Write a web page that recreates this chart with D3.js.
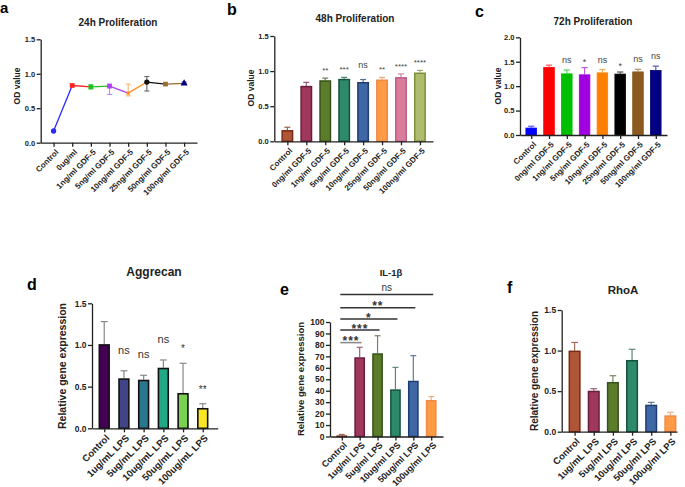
<!DOCTYPE html>
<html><head><meta charset="utf-8">
<script src="https://cdn.jsdelivr.net/npm/d3@7"></script>
<style>
body{margin:0;background:#fff}
svg{display:block}
text{font-family:"Liberation Sans",Arial,Helvetica,sans-serif}
</style>
</head><body>
<svg id="chart" width="685" height="487"></svg>
<script>
// ---------------- DATA ----------------
const catsA = ["Control","0ug/ml","1ng/ml GDF-5","5ng/ml GDF-5","10ng/ml GDF-5","25ng/ml GDF-5","50ng/ml GDF-5","100ng/ml GDF-5"];
const catsGDF = ["Control","0ng/ml GDF-5","1ng/ml GDF-5","5ng/ml GDF-5","10ng/ml GDF-5","25ng/ml GDF-5","50ng/ml GDF-5","100ng/ml GDF-5"];
const od24 = [0.17,0.83,0.81,0.82,0.72,0.88,0.85,0.86];
const od24Lo = [0.17,0.82,0.78,0.70,0.68,0.75,0.84,0.85];
const od24Hi = [0.17,0.84,0.84,0.85,0.85,0.96,0.86,0.88];
const od48 = [0.16,0.79,0.87,0.89,0.845,0.88,0.915,0.98];
const od48Err = [0.04,0.05,0.03,0.02,0.035,0.03,0.045,0.03];
const sig48 = ["","","**","***","ns","**","****","****"];
const od72 = [0.15,1.39,1.26,1.24,1.28,1.255,1.30,1.33];
const od72Err = [0.03,0.04,0.07,0.14,0.06,0.035,0.045,0.08];
const sig72 = ["","","ns","*","ns","*","ns","ns"];
const catsAgg = ["Control","1ug/mL LPS","5ug/mL LPS","10ug/mL LPS","50ug/mL LPS","100ug/mL LPS"];
const aggrecan = [1.01,0.60,0.583,0.727,0.424,0.244];
const aggrecanErr = [0.27,0.09,0.053,0.093,0.356,0.051];
const sigAgg = ["","ns","ns","ns","*","**"];
const catsIL = ["Control","1ug/ml LPS","5ug/ml LPS","10ug/ml LPS","50ug/ml LPS","100ug/ml LPS"];
const il1b = [1,69.2,72.7,41.2,48.7,31.9];
const il1bErr = [0.8,8.7,15.3,19.2,21.9,2.9];
const ilBracketTo = [1,2,3,4,5];
const ilBracketLabel = ["***","***","*","**","ns"];
const ilBracketLevel = [82,93,102.6,112.5,124];
const catsRho = ["Control","1ug/mL LPS","5ug/ml LPS","10ug/ml LPS","50ug/ml LPS","100ug/ml LPS"];
const rhoa = [1.0,0.505,0.613,0.884,0.333,0.202];
const rhoaErr = [0.10,0.025,0.077,0.132,0.029,0.037];
const ticks15 = [0,0.5,1.0,1.5];
const ticks20 = [0,0.5,1.0,1.5,2.0];
const ticks100 = [0,10,20,30,40,50,60,70,80,90,100];

// ---------------- STYLES ----------------
const pureCols = ["#0000FF","#FF0000","#00BE00","#A000E0","#FF8000","#000000","#8B5A1E","#000080"];
const lineCols = ["#2A2AFF","#FF2020","#20C020","#B040F0","#FF8A20","#111111","#9A6A30","#000080"];
const markShapes = [d3.symbolCircle,d3.symbolSquare,d3.symbolSquare,d3.symbolSquare,d3.symbolSquare,d3.symbolCircle,d3.symbolSquare,d3.symbolTriangle];
const prismFill = ["#AE5636","#A0385E","#5C7C2C","#2F8A6C","#3F67A4","#FF9A45","#DA7C9C","#AEBC6D"];
const prismStroke = ["#7A2A14","#6A1C3C","#36521A","#15523C","#1E3E72","#F08848","#BD5E82","#7D8F38"];
const viridis = ["#440154","#414487","#2A788E","#22A884","#7AD151","#FDE725"];
const light = (c,t) => d3.interpolateRgb(c,"#ffffff")(t);
const AX = "#222";

const svg = d3.select("#chart");

function drawAxes(g, x, y, o){
  const ya = d3.axisLeft(y).tickValues(o.ticks).tickFormat(o.fmt).tickSize(4).tickSizeOuter(0).tickPadding(1.5);
  const gy = g.append("g").attr("transform",`translate(${x.range()[0]},0)`).call(ya);
  gy.select(".domain").attr("stroke",AX).attr("stroke-width",1.3);
  gy.selectAll(".tick line").attr("stroke",AX).attr("stroke-width",1.3);
  gy.selectAll(".tick text").attr("font-size",o.yfs).attr("font-weight","bold").attr("fill",AX);
  const xa = d3.axisBottom(x).tickSize(4).tickSizeOuter(0);
  const gx = g.append("g").attr("transform",`translate(0,${y(0)})`).call(xa);
  gx.select(".domain").attr("stroke",AX).attr("stroke-width",1.3);
  gx.selectAll(".tick line").attr("stroke",AX).attr("stroke-width",1.3);
  gx.selectAll(".tick text").attr("font-size",o.xfs).attr("font-weight","bold").attr("fill",AX)
    .attr("text-anchor","end").attr("y",0).attr("dy","0.35em")
    .attr("transform",`translate(3,${o.lblOff}) rotate(-45)`);
  // y title
  g.append("text").attr("transform",`translate(${o.ytx},${o.yty}) rotate(-90)`)
    .attr("text-anchor","middle").attr("dy","0.35em").attr("font-size",o.ytfs)
    .attr("font-weight","bold").attr("fill",AX).text(o.ytitle);
  // title
  g.append("text").attr("x",o.tx).attr("y",o.ty).attr("text-anchor","middle")
    .attr("font-size",o.tfs).attr("font-weight","bold").attr("fill",AX).text(o.title);
  // panel letter
  g.append("text").attr("x",o.lx).attr("y",o.ly).attr("font-size",o.lfs)
    .attr("font-weight","bold").attr("fill","#000").text(o.letter);
}

function drawBars(g, x, y, cats, vals, errs, o){
  const bw = x.step()*o.bwf, cap = bw*o.capf;
  cats.forEach((c,i)=>{
    const cx = x(c), top = y(vals[i]+errs[i]);
    g.append("line").attr("x1",cx).attr("x2",cx).attr("y1",y(vals[i])).attr("y2",top)
      .attr("stroke",o.err[i]).attr("stroke-width",1.2);
    g.append("line").attr("x1",cx-cap/2).attr("x2",cx+cap/2).attr("y1",top).attr("y2",top)
      .attr("stroke",o.err[i]).attr("stroke-width",1.2);
    const sw = o.sw;
    g.append("rect").attr("x",cx-bw/2+sw/2).attr("y",y(vals[i])+sw/2)
      .attr("width",bw-sw).attr("height",Math.max(0,y(0)-y(vals[i])-sw/2))
      .attr("fill",o.fill[i]).attr("stroke",o.stroke[i]).attr("stroke-width",sw);
  });
}

function drawSig(g, x, y, cats, vals, errs, sig, o){
  cats.forEach((c,i)=>{
    if(!sig[i]) return;
    const isNs = sig[i]==="ns";
    g.append("text").attr("x",x(c)).attr("y",y(vals[i]+errs[i]) - (isNs?o.nsOff:o.stOff))
      .attr("text-anchor","middle").attr("font-size",isNs?o.nsfs:o.stfs).attr("fill",o.col)
      .attr("letter-spacing",isNs?0:o.ls)
      .text(sig[i]);
  });
}

// ---------------- PANEL a ----------------
{
  const g = svg.append("g");
  const x = d3.scalePoint().domain(catsA).range([40.7,197]).padding(0.69);
  const y = d3.scaleLinear().domain([0,1.5]).range([142.7,39.3]);
  drawAxes(g,x,y,{ticks:ticks15,fmt:d3.format(".1f"),yfs:7.5,xfs:8,lblOff:8,
    ytx:17.3,yty:86,ytfs:8.5,ytitle:"OD value",tx:118,ty:26,tfs:10,title:"24h Proliferation",
    lx:0,ly:13,lfs:15,letter:"a"});
  for(let i=0;i<catsA.length-1;i++){
    g.append("line").attr("x1",x(catsA[i])).attr("y1",y(od24[i]))
      .attr("x2",x(catsA[i+1])).attr("y2",y(od24[i+1]))
      .attr("stroke",lineCols[i]).attr("stroke-width",1.3);
  }
  catsA.forEach((c,i)=>{
    const cx = x(c), ec = light(lineCols[i],0.35);
    if(od24Hi[i]-od24Lo[i]>0.015){
      g.append("line").attr("x1",cx).attr("x2",cx).attr("y1",y(od24Lo[i])).attr("y2",y(od24Hi[i])).attr("stroke",ec).attr("stroke-width",1.1);
      [od24Lo[i],od24Hi[i]].forEach(v=>g.append("line").attr("x1",cx-2.5).attr("x2",cx+2.5).attr("y1",y(v)).attr("y2",y(v)).attr("stroke",ec).attr("stroke-width",1.1));
    }
    g.append("path").attr("d",d3.symbol().type(markShapes[i]).size(i===4?10:22)())
      .attr("transform",`translate(${cx},${y(od24[i])})`).attr("fill",lineCols[i]);
  });
}

// ---------------- PANEL b ----------------
{
  const g = svg.append("g");
  const x = d3.scalePoint().domain(catsGDF).range([274.3,433]).padding(0.69);
  const y = d3.scaleLinear().domain([0,1.5]).range([141.3,36]);
  drawBars(g,x,y,catsGDF,od48,od48Err,{bwf:0.63,capf:0.5,sw:1.5,fill:prismFill,stroke:prismStroke,err:prismStroke.map(c=>light(c,0.25))});
  drawAxes(g,x,y,{ticks:ticks15,fmt:d3.format(".1f"),yfs:7.5,xfs:8,lblOff:8,
    ytx:251.3,yty:88,ytfs:8.5,ytitle:"OD value",tx:355,ty:22,tfs:10,title:"48h Proliferation",
    lx:227,ly:15,lfs:16,letter:"b"});
  drawSig(g,x,y,catsGDF,od48,od48Err,sig48,{nsOff:12,stOff:5,nsfs:9,stfs:8,col:"#444",ls:0});
}

// ---------------- PANEL c ----------------
{
  const g = svg.append("g");
  const x = d3.scalePoint().domain(catsGDF).range([520,667]).padding(0.63);
  const y = d3.scaleLinear().domain([0,2]).range([135,37.3]);
  drawBars(g,x,y,catsGDF,od72,od72Err,{bwf:0.64,capf:0.55,sw:0.8,fill:pureCols,stroke:pureCols,err:pureCols.map(c=>light(c,0.35))});
  drawAxes(g,x,y,{ticks:ticks20,fmt:d3.format(".1f"),yfs:7.5,xfs:8,lblOff:8,
    ytx:498.3,yty:86,ytfs:8.5,ytitle:"OD value",tx:593,ty:24.5,tfs:10,title:"72h Proliferation",
    lx:475,ly:17,lfs:16,letter:"c"});
  drawSig(g,x,y,catsGDF,od72,od72Err,sig72,{nsOff:7,stOff:3,nsfs:9,stfs:9,col:"#444",ls:0});
}

// ---------------- PANEL d ----------------
{
  const g = svg.append("g");
  const x = d3.scalePoint().domain(catsAgg).range([92,217.7]).padding(0.69).align(0.45);
  const y = d3.scaleLinear().domain([0,1.5]).range([428.3,303.3]);
  drawBars(g,x,y,catsAgg,aggrecan,aggrecanErr,{bwf:0.58,capf:0.6,sw:1.6,fill:viridis,stroke:viridis.map(()=>"#111"),err:viridis.map(()=>"#888")});
  drawAxes(g,x,y,{ticks:ticks15,fmt:d3.format(".1f"),yfs:8.5,xfs:9.6,lblOff:8,
    ytx:62.3,yty:366,ytfs:10.5,ytitle:"Relative gene expression",tx:154,ty:276,tfs:12,title:"Aggrecan",
    lx:27,ly:290,lfs:16,letter:"d"});
  drawSig(g,x,y,catsAgg,aggrecan,aggrecanErr,sigAgg,{nsOff:17,stOff:11,nsfs:11,stfs:10,col:"#333",ls:0});
}

// ---------------- PANEL e ----------------
{
  const g = svg.append("g");
  const x = d3.scalePoint().domain(catsIL).range([330,443]).padding(0.66);
  const y = d3.scaleLinear().domain([0,100]).range([436.5,322]);
  const fe = prismFill.slice(0,6), se = prismStroke.slice(0,6);
  drawBars(g,x,y,catsIL,il1b,il1bErr,{bwf:0.6,capf:0.55,sw:1.5,fill:fe,stroke:se,err:se.map(c=>light(c,0.3))});
  drawAxes(g,x,y,{ticks:ticks100,fmt:d3.format("d"),yfs:8.5,xfs:8.9,lblOff:7,
    ytx:300.8,yty:379,ytfs:9.5,ytitle:"Relative gene expression",tx:391,ty:275.5,tfs:9.5,title:"IL-1β",
    lx:280,ly:295,lfs:16,letter:"e"});
  ilBracketTo.forEach((t,k)=>{
    const x1 = x(catsIL[0])-1.5, x2 = x(catsIL[t])+2, ly = y(ilBracketLevel[k]);
    g.append("line").attr("x1",x1).attr("x2",x2).attr("y1",ly).attr("y2",ly)
      .attr("stroke",k===0?"#888":"#333").attr("stroke-width",1.5);
    const isNs = ilBracketLabel[k]==="ns";
    g.append("text").attr("x",(x1+x2)/2).attr("y",isNs?ly-4:ly+2.5).attr("text-anchor","middle")
      .attr("font-size",isNs?10:12).attr("font-weight",isNs?"normal":"bold").attr("letter-spacing",isNs?0:1)
      .attr("fill","#333").text(ilBracketLabel[k]);
  });
}

// ---------------- PANEL f ----------------
{
  const g = svg.append("g");
  const x = d3.scalePoint().domain(catsRho).range([561.7,677]).padding(0.51).align(0.66);
  const y = d3.scaleLinear().domain([0,1.5]).range([431.7,310]);
  const fe = prismFill.slice(0,6), se = prismStroke.slice(0,6);
  drawBars(g,x,y,catsRho,rhoa,rhoaErr,{bwf:0.63,capf:0.55,sw:1.5,fill:fe,stroke:se,err:se.map(c=>light(c,0.3))});
  drawAxes(g,x,y,{ticks:ticks15,fmt:d3.format(".1f"),yfs:8.5,xfs:9.4,lblOff:8,
    ytx:534.2,yty:371,ytfs:10,ytitle:"Relative gene expression",tx:623,ty:293.5,tfs:11.5,title:"RhoA",
    lx:507,ly:293,lfs:16,letter:"f"});
}
</script>
</body></html>
